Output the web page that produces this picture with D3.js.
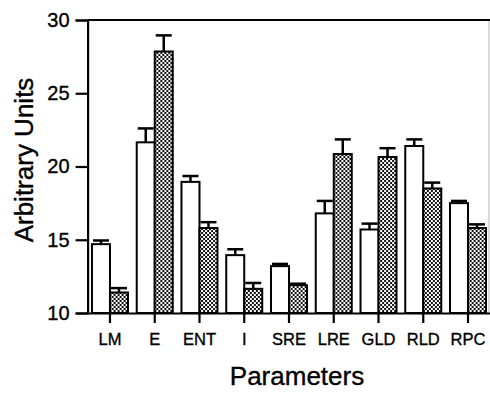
<!DOCTYPE html>
<html>
<head>
<meta charset="utf-8">
<script src="https://cdn.jsdelivr.net/npm/d3@7"></script>
<style>
  body { margin: 0; background: #fff; }
  svg { display: block; font-family: "Liberation Sans", Arial, Helvetica, sans-serif; }
  svg text { stroke: #000; stroke-width: 0.35px; }
</style>
</head>
<body>
<div id="chart"></div>
<script>
// chart values
const categories = ["LM", "E", "ENT", "I", "SRE", "LRE", "GLD", "RLD", "RPC"];
const openValues = [14.7, 21.65, 18.95, 13.95, 13.2, 16.8, 15.7, 21.4, 17.5];
const openErrors = [0.25, 0.95, 0.4, 0.4, 0.15, 0.85, 0.4, 0.45, 0.15];
const hatchValues = [11.4, 27.85, 15.8, 11.65, 11.9, 20.85, 20.65, 18.5, 15.8];
const hatchErrors = [0.3, 1.1, 0.4, 0.4, 0.1, 1.0, 0.6, 0.4, 0.25];
const yTicks = [10, 15, 20, 25, 30];

const W = 490, H = 393;
const plotLeft = 87.6, plotRight = 490.4, plotTop = 20, plotBottom = 313;

const svg = d3.select("#chart").append("svg")
    .attr("width", W)
    .attr("height", H);

// stipple fill for the second series
const defs = svg.append("defs");
const pat = defs.append("pattern")
    .attr("id", "stipple")
    .attr("width", 4).attr("height", 4)
    .attr("patternUnits", "userSpaceOnUse");
pat.append("rect").attr("width", 4).attr("height", 4).attr("fill", "#fff");
pat.append("rect").attr("width", 2).attr("height", 2).attr("fill", "#111");
pat.append("rect").attr("x", 2).attr("y", 2).attr("width", 2).attr("height", 2).attr("fill", "#111");

const x = d3.scaleBand().domain(categories).range([plotLeft, plotRight]).padding(0);
const y = d3.scaleLinear().domain([10, 30]).range([plotBottom, plotTop]);
const barW = 18;
const sub = d3.scaleBand().domain(["open", "hatch"])
    .range([x.bandwidth() / 2 - barW, x.bandwidth() / 2 + barW]);

const rows = categories.map((c, i) => ({
    cat: c,
    bars: [
        { key: "open", v: openValues[i], e: openErrors[i] },
        { key: "hatch", v: hatchValues[i], e: hatchErrors[i] }
    ]
}));

// frame
svg.append("line")
    .attr("x1", plotRight - 1.5).attr("x2", plotRight - 1.5)
    .attr("y1", plotTop).attr("y2", plotBottom)
    .attr("stroke", "#bbb").attr("stroke-width", 1);

const groups = svg.selectAll("g.grp").data(rows).join("g")
    .attr("class", "grp")
    .attr("transform", d => `translate(${x(d.cat)},0)`);

const bar = groups.selectAll("g.bar").data(d => d.bars).join("g").attr("class", "bar");

// error bars (drawn first so bar outline sits on top)
bar.append("line")
    .attr("x1", d => sub(d.key) + barW / 2)
    .attr("x2", d => sub(d.key) + barW / 2)
    .attr("y1", d => y(d.v))
    .attr("y2", d => y(d.v + d.e))
    .attr("stroke", "#000").attr("stroke-width", 2.5);
bar.append("line")
    .attr("x1", d => sub(d.key) + barW / 2 - 8)
    .attr("x2", d => sub(d.key) + barW / 2 + 8)
    .attr("y1", d => y(d.v + d.e))
    .attr("y2", d => y(d.v + d.e))
    .attr("stroke", "#000").attr("stroke-width", 2.5);

bar.append("rect")
    .attr("x", d => sub(d.key))
    .attr("width", barW)
    .attr("y", d => y(d.v))
    .attr("height", d => y(10) - y(d.v))
    .attr("fill", d => d.key === "open" ? "#fff" : "url(#stipple)")
    .attr("stroke", "#000")
    .attr("stroke-width", 2);

// axes
const yAxis = svg.append("g")
    .attr("transform", `translate(${plotLeft},0)`)
    .call(d3.axisLeft(y).tickValues(yTicks).tickSize(12).tickPadding(6));
yAxis.select(".domain").attr("stroke-width", 2.2);
yAxis.selectAll(".tick line").attr("stroke-width", 2.2);
yAxis.selectAll("text").attr("font-size", 20).attr("fill", "#000")
    .attr("font-family", "Liberation Sans, Arial, sans-serif");

const xAxis = svg.append("g")
    .attr("transform", `translate(0,${plotBottom})`)
    .call(d3.axisBottom(x).tickSizeInner(10).tickSizeOuter(0).tickPadding(10));
xAxis.select(".domain").attr("stroke-width", 2.2);
xAxis.selectAll(".tick line").attr("stroke-width", 2.2);
xAxis.selectAll("text").attr("font-size", 16.5).attr("fill", "#000")
    .attr("font-family", "Liberation Sans, Arial, sans-serif");

svg.append("line")
    .attr("x1", plotLeft).attr("x2", plotRight)
    .attr("y1", plotTop).attr("y2", plotTop)
    .attr("stroke", "#000").attr("stroke-width", 2.2);

// titles
svg.append("text")
    .attr("transform", "translate(33,160) rotate(-90)")
    .attr("text-anchor", "middle")
    .attr("font-size", 26)
    .text("Arbitrary Units");

svg.append("text")
    .attr("x", 297).attr("y", 385)
    .attr("text-anchor", "middle")
    .attr("font-size", 26)
    .text("Parameters");
</script>
</body>
</html>
